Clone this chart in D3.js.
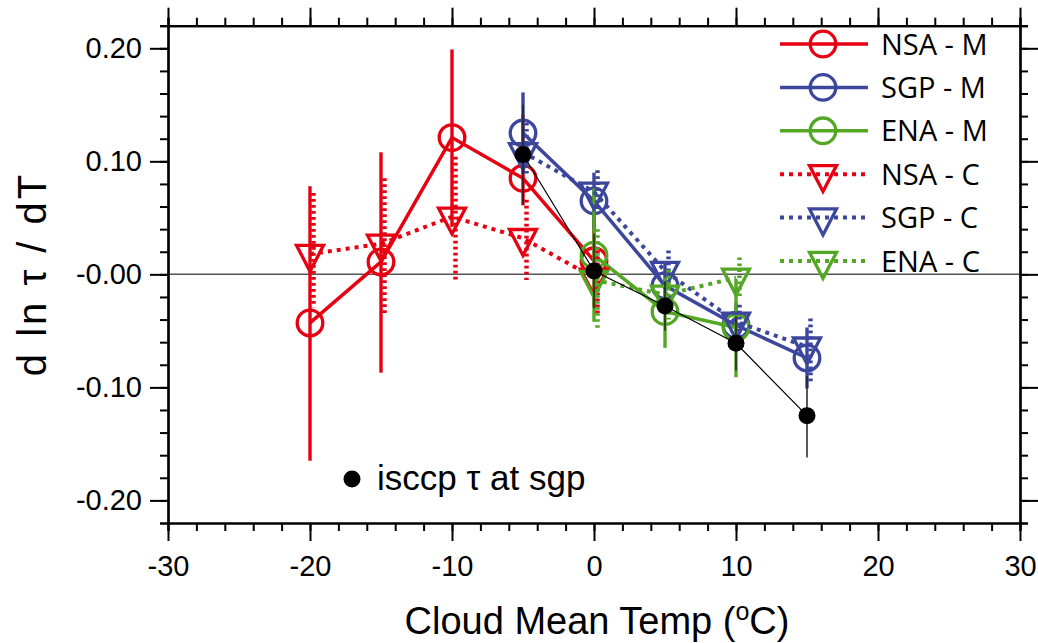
<!DOCTYPE html>
<html>
<head>
<meta charset="utf-8">
<script src="https://cdn.jsdelivr.net/npm/d3@7"></script>
<style>
  body { margin: 0; background: #fff; }
  svg { display: block; }
</style>
</head>
<body>
<svg id="canvas"></svg>
<script>
// ---- data ----
const nsaTemps = [-20, -15, -10, -5, 0];
const sgpTemps = [-5, 0, 5, 10, 15];
const enaTemps = [0, 5, 10];
const isccpTemps = [-5, 0, 5, 10, 15];

const nsaM = [-0.043, 0.011, 0.121, 0.085, 0.012];
const nsaMLow = [-0.165, -0.087, 0.042, 0.061, -0.029];
const nsaMHigh = [0.078, 0.108, 0.199, 0.141, 0.054];

const sgpM = [0.125, 0.065, -0.010, -0.045, -0.074];
const sgpMLow = [0.089, 0.040, -0.030, -0.065, -0.101];
const sgpMHigh = [0.161, 0.090, 0.010, -0.025, -0.047];

const enaM = [0.017, -0.033, -0.047];
const enaMLow = [-0.042, -0.065, -0.091];
const enaMHigh = [0.076, -0.003, -0.004];

const nsaC = [0.018, 0.027, 0.051, 0.032, -0.003];
const nsaCLow = [-0.029, -0.036, -0.005, -0.005, -0.035];
const nsaCHigh = [0.072, 0.085, 0.104, 0.066, 0.021];

const sgpC = [0.108, 0.073, 0.003, -0.042, -0.064];
const sgpCLow = [0.086, 0.054, -0.015, -0.057, -0.096];
const sgpCHigh = [0.134, 0.092, 0.021, -0.027, -0.039];

const enaC = [-0.005, -0.018, -0.003];
const enaCLow = [-0.050, -0.040, -0.021];
const enaCHigh = [0.040, 0.004, 0.015];

const isccp = [0.106, 0.003, -0.028, -0.061, -0.125];
const isccpLow = [0.062, -0.030, -0.050, -0.085, -0.162];
const isccpHigh = [0.150, 0.036, -0.006, -0.037, -0.090];

const xTicks = [-30, -20, -10, 0, 10, 20, 30];
const xTickLabels = ['-30', '-20', '-10', '0', '10', '20', '30'];
const yTicks = [-0.2, -0.1, 0, 0.1, 0.2];
const yTickLabels = ['-0.20', '-0.10', '-0.00', '0.10', '0.20'];

const legendNames = ['NSA - M', 'SGP - M', 'ENA - M', 'NSA - C', 'SGP - C', 'ENA - C'];

// ---- layout ----
const width = 1038;
const height = 643;
const plotLeft = 168, plotRight = 1020, plotTop = 25.7, plotBottom = 523;

const RED = '#e60012';
const BLUE = '#3c469c';
const GREEN = '#54a625';

const svg = d3.select('#canvas')
  .attr('width', width)
  .attr('height', height);

const x = d3.scaleLinear().domain([-30, 30]).range([plotLeft, plotRight]);
const y = d3.scaleLinear().domain([-0.22, 0.22]).range([plotBottom, plotTop]);

const series = [
  { name: legendNames[0], t: nsaTemps, v: nsaM, lo: nsaMLow, hi: nsaMHigh, color: RED, dotted: false },
  { name: legendNames[1], t: sgpTemps, v: sgpM, lo: sgpMLow, hi: sgpMHigh, color: BLUE, dotted: false },
  { name: legendNames[2], t: enaTemps, v: enaM, lo: enaMLow, hi: enaMHigh, color: GREEN, dotted: false },
  { name: legendNames[3], t: nsaTemps, v: nsaC, lo: nsaCLow, hi: nsaCHigh, color: RED, dotted: true },
  { name: legendNames[4], t: sgpTemps, v: sgpC, lo: sgpCLow, hi: sgpCHigh, color: BLUE, dotted: true },
  { name: legendNames[5], t: enaTemps, v: enaC, lo: enaCLow, hi: enaCHigh, color: GREEN, dotted: true }
];

// zero line
svg.append('line')
  .attr('x1', plotLeft).attr('x2', plotRight)
  .attr('y1', y(0)).attr('y2', y(0))
  .attr('stroke', '#555').attr('stroke-width', 1.5);

const tri = (cx, cy, w, h) => {
  return `M${cx - w / 2},${cy - h / 3}L${cx + w / 2},${cy - h / 3}L${cx},${cy + 2 * h / 3}Z`;
};

const drawSeries = (s) => {
  const g = svg.append('g');
  const pts = s.t.map((t, i) => ({ t, v: s.v[i], lo: s.lo[i], hi: s.hi[i] }));

  // error bars
  g.selectAll('line.err')
    .data(pts)
    .enter()
    .append('line')
    .attr('x1', d => x(d.t) + (s.dotted ? 3.5 : 0))
    .attr('x2', d => x(d.t) + (s.dotted ? 3.5 : 0))
    .attr('y1', d => y(d.hi))
    .attr('y2', d => y(d.lo))
    .attr('stroke', s.color)
    .attr('stroke-width', s.dotted ? 4.5 : 3.4)
    .attr('stroke-dasharray', s.dotted ? '2.7,3.3' : null);

  // connecting line
  g.append('path')
    .datum(pts)
    .attr('d', d3.line().x(d => x(d.t)).y(d => y(d.v)))
    .attr('fill', 'none')
    .attr('stroke', s.color)
    .attr('stroke-width', s.dotted ? 4 : 3.5)
    .attr('stroke-dasharray', s.dotted ? '4,5' : null);

  // markers
  if (s.dotted) {
    g.selectAll('path.mk')
      .data(pts)
      .enter()
      .append('path')
      .attr('d', d => tri(x(d.t), y(d.v), 27, 26))
      .attr('fill', 'none')
      .attr('stroke', s.color)
      .attr('stroke-width', 3.3);
  } else {
    g.selectAll('circle.mk')
      .data(pts)
      .enter()
      .append('circle')
      .attr('cx', d => x(d.t))
      .attr('cy', d => y(d.v))
      .attr('r', 12.8)
      .attr('fill', 'none')
      .attr('stroke', s.color)
      .attr('stroke-width', 3.3);
  }
};

series.forEach(drawSeries);

// isccp
const isPts = isccpTemps.map((t, i) => ({ t, v: isccp[i], lo: isccpLow[i], hi: isccpHigh[i] }));
svg.append('g').selectAll('line')
  .data(isPts)
  .enter()
  .append('line')
  .attr('x1', d => x(d.t)).attr('x2', d => x(d.t))
  .attr('y1', d => y(d.hi)).attr('y2', d => y(d.lo))
  .attr('stroke', '#222').attr('stroke-width', 1.5);
svg.append('path')
  .datum(isPts)
  .attr('d', d3.line().x(d => x(d.t)).y(d => y(d.v)))
  .attr('fill', 'none')
  .attr('stroke', '#000')
  .attr('stroke-width', 1.2);
svg.append('g').selectAll('circle')
  .data(isPts)
  .enter()
  .append('circle')
  .attr('cx', d => x(d.t)).attr('cy', d => y(d.v))
  .attr('r', 8.5)
  .attr('fill', '#000');

// ---- axes ----
const minorX = d3.range(-30, 30.001, 2);
const minorY = d3.range(-0.22, 0.2201, 0.02);

const styleAxis = (g) => {
  g.select('.domain').attr('stroke', '#000').attr('stroke-width', 2.2);
  g.selectAll('.tick line').attr('stroke', '#000').attr('stroke-width', 2);
  g.selectAll('.tick text')
    .attr('font-family', '"Liberation Sans", Arial, sans-serif')
    .attr('font-size', 29)
    .attr('fill', '#000');
};

const axes = [
  { fn: d3.axisBottom, scale: x, pos: `translate(0,${plotBottom})`, minor: minorX, major: xTicks, labels: xTickLabels },
  { fn: d3.axisTop, scale: x, pos: `translate(0,${plotTop})`, minor: minorX, major: xTicks, labels: null },
  { fn: d3.axisLeft, scale: y, pos: `translate(${plotLeft},0)`, minor: minorY, major: yTicks, labels: yTickLabels },
  { fn: d3.axisRight, scale: y, pos: `translate(${plotRight},0)`, minor: minorY, major: yTicks, labels: null }
];

axes.forEach(a => {
  svg.append('g')
    .attr('transform', a.pos)
    .call(a.fn(a.scale).tickValues(a.minor).tickSize(8).tickFormat(''))
    .call(styleAxis);
  let ax = a.fn(a.scale).tickValues(a.major).tickSize(18).tickSizeOuter(0);
  if (!a.labels) ax = ax.tickFormat('');
  else ax = ax.tickPadding(a.scale === y ? 8 : 14).tickFormat((d, i) => a.labels[i]);
  svg.append('g')
    .attr('transform', a.pos)
    .call(ax)
    .call(styleAxis);
});

// axis titles
svg.append('text')
  .attr('x', 597)
  .attr('y', 634)
  .attr('text-anchor', 'middle')
  .attr('font-family', '"Liberation Sans", Arial, sans-serif')
  .attr('font-size', 38)
  .call(t => {
    t.append('tspan').text('Cloud Mean Temp (');
    t.append('tspan').attr('dy', -14).attr('font-size', 25).text('o');
    t.append('tspan').attr('dy', 14).text('C)');
  });

svg.append('text')
  .attr('transform', 'translate(46,274) rotate(-90)')
  .attr('text-anchor', 'middle')
  .attr('font-family', '"Liberation Sans", Arial, sans-serif')
  .attr('font-size', 40)
  .attr('letter-spacing', 3)
  .text('d ln \u03c4 / dT');

// ---- legend ----
const lg = svg.append('g');
series.forEach((s, i) => {
  const ly = 44 + i * 43.4;
  lg.append('line')
    .attr('x1', 780).attr('x2', 868)
    .attr('y1', ly).attr('y2', ly)
    .attr('stroke', s.color)
    .attr('stroke-width', s.dotted ? 4 : 3.5)
    .attr('stroke-dasharray', s.dotted ? '4,5' : null);
  if (s.dotted) {
    lg.append('path')
      .attr('d', tri(823, ly, 27, 26))
      .attr('fill', 'none').attr('stroke', s.color).attr('stroke-width', 3.3);
  } else {
    lg.append('circle')
      .attr('cx', 823).attr('cy', ly).attr('r', 12.8)
      .attr('fill', 'none').attr('stroke', s.color).attr('stroke-width', 3.3);
  }
  lg.append('text')
    .attr('x', 881)
    .attr('y', ly + 10.5)
    .attr('font-family', '"Open Sans", sans-serif')
    .attr('font-size', 29)
    .attr('fill', '#000')
    .text(s.name);
});

// isccp legend
svg.append('circle').attr('cx', 352).attr('cy', 479).attr('r', 8.5).attr('fill', '#000');
svg.append('text')
  .attr('x', 377)
  .attr('y', 490)
  .attr('font-family', '"Liberation Sans", Arial, sans-serif')
  .attr('font-size', 35)
  .text('isccp \u03c4 at sgp');
</script>
</body>
</html>
